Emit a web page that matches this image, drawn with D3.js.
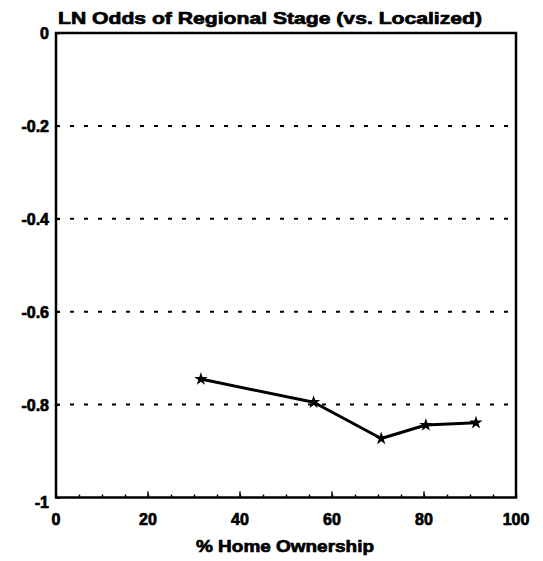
<!DOCTYPE html>
<html><head><meta charset="utf-8">
<script src="https://cdn.jsdelivr.net/npm/d3@7"></script>
<style>
html,body{margin:0;padding:0;background:#fff;}
text{font-family:"Liberation Sans",Arial,sans-serif;font-weight:bold;fill:#000;stroke:#000;stroke-width:0.7px;}
</style></head>
<body><svg id="chart" width="543" height="561"></svg>
<script>
const homeOwnership = [31.5, 56, 70.7, 80.4, 91.3];
const lnOdds = [-0.745, -0.795, -0.873, -0.844, -0.839];
const xTicks = [0, 20, 40, 60, 80, 100];
const yTicks = [0, -0.2, -0.4, -0.6, -0.8, -1];
const gridValues = [-0.2, -0.4, -0.6, -0.8];
const titleText = "LN Odds of Regional Stage (vs. Localized)";
const xTitle = "% Home Ownership";

const svg = d3.select("#chart");
const L = 56, R = 516, T = 33, B = 497.5;
const x = d3.scaleLinear().domain([0, 100]).range([L, R]);
const y = d3.scaleLinear().domain([-1, 0]).range([B, T]);

// grid
svg.append("g").selectAll("line").data(gridValues).join("line")
  .attr("x1", L).attr("x2", R).attr("y1", d => y(d)).attr("y2", d => y(d))
  .attr("stroke", "#000").attr("stroke-width", 2).attr("stroke-dasharray", "4,10");

// frame
svg.append("rect").attr("x", L).attr("y", T).attr("width", R - L).attr("height", B - T)
  .attr("fill", "none").attr("stroke", "#000").attr("stroke-width", 2.5);

// bottom axis (inward ticks)
const xAxis = d3.axisTop(x).tickValues(d3.range(0, 101, 5)).tickSize(3).tickFormat("");
svg.append("g").attr("transform", `translate(0,${B})`).call(xAxis)
  .call(g => g.select(".domain").remove())
  .call(g => g.selectAll("line").attr("stroke-width", 1.5));
svg.append("g").selectAll("line").data(xTicks).join("line")
  .attr("x1", d => x(d)).attr("x2", d => x(d)).attr("y1", B).attr("y2", B - 6)
  .attr("stroke", "#000").attr("stroke-width", 1.5);
svg.append("g").selectAll("text").data(xTicks).join("text")
  .attr("x", d => x(d)).attr("y", 525).attr("text-anchor", "middle")
  .attr("font-size", 16).text(d => String(d));

// left axis
const yAxis = d3.axisRight(y).tickValues(yTicks).tickSize(4).tickFormat("");
svg.append("g").attr("transform", `translate(${L},0)`).call(yAxis)
  .call(g => g.select(".domain").remove())
  .call(g => g.selectAll("line").attr("stroke-width", 1.5));
svg.append("g").selectAll("text").data(yTicks).join("text")
  .attr("x", 49).attr("y", d => y(d) + (d === -1 ? 10 : 6)).attr("text-anchor", "end")
  .attr("font-size", 16).text(d => String(d));

// line
svg.append("path").datum(homeOwnership.map((v, i) => [v, lnOdds[i]]))
  .attr("fill", "none").attr("stroke", "#000").attr("stroke-width", 3)
  .attr("stroke-linejoin", "round")
  .attr("d", d3.line().x(d => x(d[0])).y(d => y(d[1])));

// star markers
const star = d3.symbol().type(d3.symbolStar).size(55);
svg.append("g").selectAll("path").data(homeOwnership).join("path")
  .attr("transform", (d, i) => `translate(${x(d)},${y(lnOdds[i])})`)
  .attr("d", star).attr("fill", "#000");

// titles
svg.append("text").attr("x", 58).attr("y", 24).attr("font-size", 17)
  .attr("textLength", 424).attr("lengthAdjust", "spacingAndGlyphs").text(titleText);
svg.append("text").attr("x", 196).attr("y", 552).attr("font-size", 17)
  .attr("textLength", 178).attr("lengthAdjust", "spacingAndGlyphs").text(xTitle);
</script></body></html>
